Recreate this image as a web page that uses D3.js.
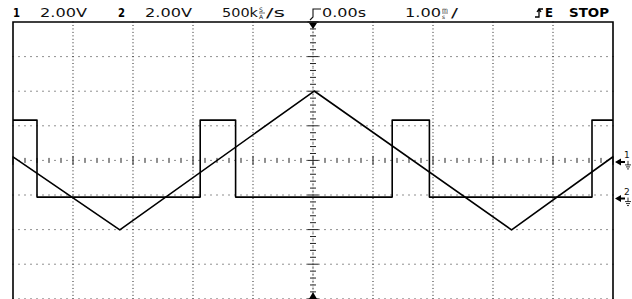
<!DOCTYPE html>
<html>
<head>
<meta charset="utf-8">
<script src="https://cdn.jsdelivr.net/npm/d3@7"></script>
<style>
  html, body { margin: 0; padding: 0; background: #fff; }
  svg { display: block; }
  .hdr { font-family: "DejaVu Sans", sans-serif; font-size: 11.5px; fill: #111; }
  .hdr-bold { font-family: "DejaVu Sans", sans-serif; font-size: 12.5px; font-weight: bold; fill: #000; }
  .tiny { font-family: "DejaVu Sans", sans-serif; font-size: 6px; fill: #111; }
  .trace { fill: none; stroke: #000; stroke-width: 1.6; stroke-linejoin: round; }
  .dot { fill: #222; }
</style>
</head>
<body>
<div id="scope"></div>
<script>

// ---------------- data ----------------

// channel 1 (triangle), time in ms, level in volts
const ch1Time  = [-5.0, -3.22, 0.02, 3.31, 5.0];
const ch1Volts = [0.20, -4.02, 4.01, -4.02, 0.21];

// channel 2 (square), each point holds until the next one (step after)
const ch2Time  = [-5.0, -4.60, -1.88, -1.29, 1.32, 1.94, 4.65, 5.0];
const ch2Volts = [4.45, 0.00, 4.45, 0.00, 4.45, 0.00, 4.45, 4.45];

// channel settings
const voltsPerDiv = [2, 2];
const chPosDiv = [0, -1.06];       // ground marker position in divisions

// header labels
const headerItems = [
    { text: "1",      x: 13,  w: 7,  bold: true },
    { text: "2.00V",  x: 40,  w: 47 },
    { text: "2",      x: 118, w: 7,  bold: true },
    { text: "2.00V",  x: 145, w: 47 },
    { text: "500k",   x: 222, w: 36 },
    { text: "/s",     x: 266, w: 19 },
    { text: "0.00s",  x: 322, w: 44 },
    { text: "1.00",   x: 405, w: 36 },
    { text: "/",      x: 451, w: 7 },
    { text: "E",      x: 545, w: 8,  bold: true },
    { text: "STOP",   x: 569, w: 40, bold: true }
];
const stackedUnits = [
    { top: "S", bottom: "A", x: 259 },
    { top: "m", bottom: "s", x: 442 }
];

// ---------------- layout ----------------

const W = 632, H = 299;
const frameL = 13, frameR = 613, frameT = 22;
const divH = 34.6;
const nx = 10, ny = 8;

const x = d3.scaleLinear().domain([-5, 5]).range([frameL, frameR]);
// screen divisions, +4 at top, -4 at bottom
const yDiv = d3.scaleLinear().domain([-4, 4]).range([frameT + ny * divH, frameT]);

const svg = d3.select("#scope").append("svg")
    .attr("width", W)
    .attr("height", H);

// ---------------- grid ----------------

const grid = svg.append("g");

// dots every 0.1 div
const vDots = d3.range(0, ny * 10 + 1).map(i => -4 + i / 10);
const hDots = d3.range(0, nx * 10 + 1).map(i => -5 + i / 10);

d3.range(1, nx).forEach(k => {
    const t = -5 + k;
    if (t === 0) return;
    grid.selectAll(null).data(vDots).enter().append("rect")
        .attr("class", "dot")
        .attr("x", x(t) - 0.5).attr("y", d => yDiv(d) - 0.5)
        .attr("width", 1).attr("height", 1);
});

d3.range(1, ny + 1).forEach(k => {
    const d0 = 4 - k;
    if (d0 === 0) return;
    grid.selectAll(null).data(hDots).enter().append("rect")
        .attr("class", "dot")
        .attr("x", d => x(d) - 0.5).attr("y", yDiv(d0) - 0.5)
        .attr("width", 1).attr("height", 1);
});

// centre horizontal axis: dots and ticks
const tickLen = (i, big, mid) => i % 10 === 0 ? big : (i % 2 === 0 ? mid : 1);

grid.selectAll(null).data(hDots).enter().append("rect")
    .attr("class", "dot")
    .attr("x", d => x(d) - 0.5)
    .attr("y", (d, i) => yDiv(0) - tickLen(i, 9, 5) / 2)
    .attr("width", 1)
    .attr("height", (d, i) => tickLen(i, 9, 5));

// centre vertical axis: dots and ticks
grid.selectAll(null).data(vDots).enter().append("rect")
    .attr("class", "dot")
    .attr("y", d => yDiv(d) - 0.5)
    .attr("x", (d, i) => x(0) - tickLen(i, 11, 6) / 2)
    .attr("height", 1)
    .attr("width", (d, i) => tickLen(i, 11, 6));

grid.append("line")
    .attr("x1", x(0)).attr("x2", x(0))
    .attr("y1", frameT).attr("y2", H)
    .attr("stroke", "#333").attr("stroke-width", 0.6)
    .attr("stroke-dasharray", "1,1.3");

// frame
svg.append("path")
    .attr("d", `M${frameL},${H} V${frameT} H${frameR} V${H}`)
    .attr("fill", "none")
    .attr("stroke", "#000")
    .attr("stroke-width", 1.6);

// trigger position markers on the centre axis
svg.append("path")
    .attr("d", `M${x(0) - 4},${frameT + 1} H${x(0) + 4} L${x(0)},${frameT + 7} Z`)
    .attr("fill", "#000");
svg.append("path")
    .attr("d", `M${x(0) - 4},${H} H${x(0) + 4} L${x(0)},${H - 7} Z`)
    .attr("fill", "#000");

// ---------------- traces ----------------

function yCh(ch) {
    return v => yDiv(chPosDiv[ch] + v / voltsPerDiv[ch]);
}

const line1 = d3.line()
    .x(d => x(d[0]))
    .y(d => yCh(0)(d[1]));

const line2 = d3.line()
    .curve(d3.curveStepAfter)
    .x(d => x(d[0]))
    .y(d => yCh(1)(d[1]));

svg.append("path")
    .attr("class", "trace")
    .attr("d", line2(d3.zip(ch2Time, ch2Volts)));

svg.append("path")
    .attr("class", "trace")
    .attr("d", line1(d3.zip(ch1Time, ch1Volts)));

// ---------------- ground markers ----------------

[0, 1].forEach(ch => {
    const gy = yDiv(chPosDiv[ch]) + 1.5;
    const m = svg.append("g").attr("transform", `translate(${frameR + 2},${gy})`);
    m.append("path")
        .attr("d", "M0,0 L6,-3.5 L6,-1 H10 V1 H6 L6,3.5 Z")
        .attr("fill", "#000");
    m.append("text")
        .attr("class", "hdr")
        .attr("x", 9).attr("y", -4)
        .style("font-size", "9px")
        .text(ch + 1);
    // small ground symbol
    m.append("path")
        .attr("d", "M13,-1 V3 M10,3 H16 M11,5 H15 M12,7 H14")
        .attr("stroke", "#000").attr("stroke-width", 0.8).attr("fill", "none");
});

// ---------------- header ----------------

const hdr = svg.append("g");

hdr.selectAll("text.item")
    .data(headerItems)
    .enter()
    .append("text")
    .attr("class", d => d.bold ? "hdr-bold" : "hdr")
    .attr("x", d => d.x)
    .attr("y", 17)
    .attr("textLength", d => d.w)
    .attr("lengthAdjust", "spacingAndGlyphs")
    .text(d => d.text);

stackedUnits.forEach(u => {
    hdr.append("text").attr("class", "tiny").attr("x", u.x).attr("y", 12).text(u.top);
    hdr.append("line")
        .attr("x1", u.x).attr("x2", u.x + 6)
        .attr("y1", 13).attr("y2", 13)
        .attr("stroke", "#111").attr("stroke-width", 0.6);
    hdr.append("text").attr("class", "tiny").attr("x", u.x).attr("y", 18.5).text(u.bottom);
});

// trigger delay symbol before 0.00s
hdr.append("path")
    .attr("d", "M310,20 L313,17 V9 H321")
    .attr("fill", "none").attr("stroke", "#111").attr("stroke-width", 1.1);

// trigger slope symbol
hdr.append("path")
    .attr("d", "M535,17 H539 V9 H543 M537,12 L539,9 L541,12")
    .attr("fill", "none").attr("stroke", "#000").attr("stroke-width", 1.3);

</script>
</body>
</html>
